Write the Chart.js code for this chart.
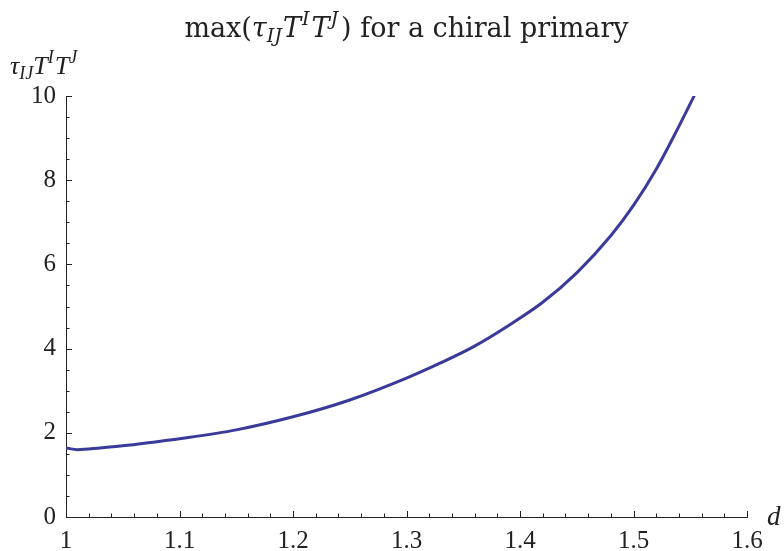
<!DOCTYPE html>
<html>
<head>
<meta charset="utf-8">
<script src="https://cdn.jsdelivr.net/npm/chart.js@4.4.1/dist/chart.umd.min.js"></script>
<style>
  html, body { margin: 0; padding: 0; background: #fff; }
  canvas { display: block; }
</style>
</head>
<body>
<canvas id="plot" width="784" height="551"></canvas>
<script>
// values
const dValues = [1.0, 1.01, 1.03, 1.05, 1.08, 1.1, 1.15, 1.2, 1.25, 1.3, 1.33, 1.36, 1.39, 1.42, 1.45, 1.48, 1.5, 1.52, 1.54, 1.558];
const tauValues = [1.64, 1.60, 1.64, 1.69, 1.79, 1.86, 2.07, 2.38, 2.78, 3.30, 3.66, 4.06, 4.55, 5.10, 5.80, 6.68, 7.40, 8.26, 9.28, 10.25];

const xTicks = [1, 1.1, 1.2, 1.3, 1.4, 1.5, 1.6];
const xTickLabels = ['1', '1.1', '1.2', '1.3', '1.4', '1.5', '1.6'];
const yTicks = [0, 2, 4, 6, 8, 10];
const yTickLabels = ['0', '2', '4', '6', '8', '10'];
const xMinorStep = 0.02;
const yMinorStep = 0.5;

const SERIF = '"Liberation Serif", "DejaVu Serif", serif';
const WIDE_SERIF = '"DejaVu Serif", "Liberation Serif", serif';
const LINE = '#3a3a9a';

// text with sub/superscripts, drawn piece by piece
function drawRich(ctx, parts, x, y, align, family) {
  let total = 0;
  parts.forEach(p => {
    ctx.font = (p.italic ? 'italic ' : '') + p.size + 'px ' + family;
    p.w = ctx.measureText(p.t).width;
    total += p.w + (p.gap || 0);
  });
  let cx = align === 'center' ? x - total / 2 : x;
  ctx.fillStyle = '#222';
  ctx.textBaseline = 'alphabetic';
  ctx.textAlign = 'left';
  parts.forEach(p => {
    ctx.font = (p.italic ? 'italic ' : '') + p.size + 'px ' + family;
    ctx.fillText(p.t, cx, y + (p.dy || 0));
    cx += p.w + (p.gap || 0);
  });
}

const titleParts = [
  { t: 'max(', size: 27 },
  { t: 'τ', size: 27, italic: true },
  { t: 'IJ', size: 19, italic: true, dy: 5, gap: 1 },
  { t: 'T', size: 27, italic: true, gap: 1 },
  { t: 'I', size: 19, italic: true, dy: -12, gap: 2 },
  { t: 'T', size: 27, italic: true, gap: 1 },
  { t: 'J', size: 19, italic: true, dy: -12, gap: 3 },
  { t: ') for a chiral primary', size: 27 }
];
const yLabelParts = [
  { t: 'τ', size: 26, italic: true },
  { t: 'IJ', size: 18, italic: true, dy: 5 },
  { t: 'T', size: 26, italic: true },
  { t: 'I', size: 18, italic: true, dy: -11, gap: 1 },
  { t: 'T', size: 26, italic: true },
  { t: 'J', size: 18, italic: true, dy: -11 }
];

const decorations = {
  id: 'decorations',
  afterDraw(chart) {
    const ctx = chart.ctx;
    const xs = chart.scales.x, ys = chart.scales.y;
    const left = chart.chartArea.left, bottom = chart.chartArea.bottom;
    ctx.save();
    ctx.strokeStyle = '#222';
    ctx.lineWidth = 1;
    // inward ticks on the x axis
    for (let v = xs.min; v <= xs.max + 1e-9; v += xMinorStep) {
      const major = xTicks.some(t => Math.abs(t - v) < 1e-6);
      const px = Math.round(xs.getPixelForValue(v)) + 0.5;
      ctx.beginPath();
      ctx.moveTo(px, bottom);
      ctx.lineTo(px, bottom - (major ? 6 : 3.5));
      ctx.stroke();
    }
    // inward ticks on the y axis
    for (let v = ys.min; v <= ys.max + 1e-9; v += yMinorStep) {
      const major = yTicks.some(t => Math.abs(t - v) < 1e-6);
      const py = Math.round(ys.getPixelForValue(v)) + 0.5;
      ctx.beginPath();
      ctx.moveTo(left, py);
      ctx.lineTo(left + (major ? 6 : 3.5), py);
      ctx.stroke();
    }
    drawRich(ctx, titleParts, (chart.chartArea.left + chart.chartArea.right) / 2, 37, 'center', WIDE_SERIF);
    drawRich(ctx, yLabelParts, 10, 74, 'left', SERIF);
    drawRich(ctx, [{ t: 'd', size: 27, italic: true }], 767, 525, 'left', SERIF);
    ctx.restore();
  }
};

new Chart(document.getElementById('plot'), {
  type: 'line',
  data: {
    datasets: [{
      data: dValues.map((d, i) => ({ x: d, y: tauValues[i] })),
      borderColor: LINE,
      borderWidth: 3,
      pointRadius: 0,
      fill: false,
      cubicInterpolationMode: 'monotone'
    }]
  },
  options: {
    responsive: false,
    animation: false,
    events: [],
    layout: { padding: { top: 96, right: 37, left: 0, bottom: 0 } },
    plugins: {
      legend: { display: false },
      tooltip: { enabled: false }
    },
    scales: {
      x: {
        type: 'linear',
        min: 1,
        max: 1.6,
        afterBuildTicks: s => { s.ticks = xTicks.map(v => ({ value: v })); },
        afterFit: s => { s.height = 34; },
        grid: { display: false, drawTicks: false },
        border: { display: true, color: '#222', width: 1 },
        ticks: {
          autoSkip: false,
          maxRotation: 0,
          padding: 9,
          color: '#222',
          font: { family: SERIF, size: 25 },
          callback: (v, i) => xTickLabels[i]
        }
      },
      y: {
        min: 0,
        max: 10,
        afterBuildTicks: s => { s.ticks = yTicks.map(v => ({ value: v })); },
        afterFit: s => { s.width = 66; },
        grid: { display: false, drawTicks: false },
        border: { display: true, color: '#222', width: 1 },
        ticks: {
          autoSkip: false,
          padding: 10,
          color: '#222',
          font: { family: SERIF, size: 25 },
          callback: (v, i) => yTickLabels[i]
        }
      }
    }
  },
  plugins: [decorations]
});
</script>
</body>
</html>
